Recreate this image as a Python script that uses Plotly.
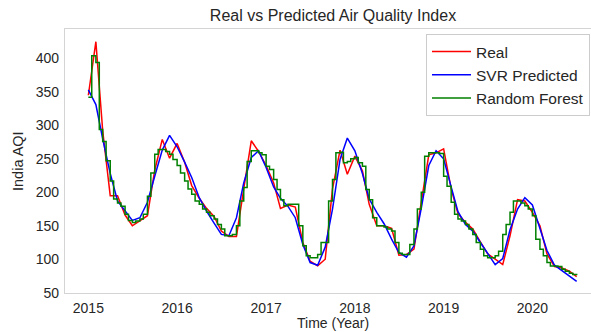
import pandas as pd
import plotly.graph_objects as go

# ---------------- data ----------------
month_dates = pd.date_range("2015-01-01", periods=67, freq="MS")
half_month_dates = pd.date_range("2015-01-01", periods=133, freq="SMS")

real_aqi = [345, 425, 292, 195, 195, 166, 150, 157, 165, 233, 279, 251,
            273, 245, 210, 191, 176, 164, 142, 134, 134, 205, 277, 261,
            240, 214, 176, 181, 178, 125, 97, 90, 100, 205, 263, 227,
            254, 232, 182, 150, 150, 146, 106, 107, 115, 185, 256, 259,
            265, 205, 168, 155, 145, 126, 108, 100, 92, 135, 189, 187,
            170, 150, 108, 89, 87, 82, 74]

svr_pred = [353, 331, 280, 228, 187, 172, 158, 162, 185, 224, 263, 285,
            268, 245, 222, 192, 172, 154, 137, 135, 162, 214, 252, 262,
            237, 208, 191, 179, 162, 122, 95, 91, 118, 175, 249, 281,
            262, 228, 190, 170, 153, 130, 110, 103, 120, 176, 240, 262,
            250, 208, 171, 152, 142, 125, 108, 92, 101, 144, 175, 192,
            181, 146, 113, 91, 83, 75, 67]

rf_pred = [342, 404, 394, 294, 276, 247, 217, 190, 184, 179, 167, 158,
           155, 157, 160, 167, 194, 229, 257, 264, 264, 261, 257, 249,
           240, 229, 217, 205, 197, 187, 182, 175, 170, 165, 160, 152,
           145, 135, 135, 137, 150, 187, 207, 246, 262, 262, 259, 256,
           239, 234, 219, 204, 189, 180, 182, 182, 182, 150, 120, 105,
           102, 102, 107, 125, 125, 187, 219, 259, 260, 244, 246, 250,
           252, 244, 239, 204, 189, 162, 150, 150, 148, 145, 142, 125,
           109, 107, 107, 122, 145, 175, 200, 254, 259, 259, 259, 258,
           224, 209, 185, 167, 160, 157, 152, 145, 137, 125, 115, 105,
           102, 102, 105, 112, 137, 152, 170, 187, 187, 184, 180, 175,
           165, 130, 115, 105, 95, 90, 90, 89, 85, 82, 79, 77, 76]

series_names = ["Real", "SVR Predicted", "Random Forest"]
series_colors = ["red", "blue", "green"]

y_ticks = [50, 100, 150, 200, 250, 300, 350, 400]
x_tick_years = ["2015", "2016", "2017", "2018", "2019", "2020"]

# ---------------- figure ----------------
FONT = "Liberation Sans, Arial, sans-serif"
TXT = "#262626"

fig = go.Figure()
fig.add_trace(go.Scatter(x=month_dates, y=real_aqi, mode="lines",
                         name=series_names[0], legendgroup="a",
                         line=dict(color=series_colors[0], width=1.5)))
fig.add_trace(go.Scatter(x=month_dates, y=svr_pred, mode="lines",
                         name=series_names[1], legendgroup="b",
                         line=dict(color=series_colors[1], width=1.5)))
fig.add_trace(go.Scatter(x=half_month_dates, y=rf_pred, mode="lines",
                         name=series_names[2], legendgroup="c",
                         line=dict(color=series_colors[2], width=1.5, shape="hv")))

W, H = 591, 332
L, R, T, B = 65, 0, 29, 39
plot_w = W - L - R
plot_h = H - T - B

fig.update_layout(
    width=W, height=H,
    margin=dict(l=L, r=R, t=T, b=B, pad=0),
    paper_bgcolor="white", plot_bgcolor="white",
    font=dict(family=FONT, size=14, color=TXT),
    title=dict(text="Real vs Predicted Air Quality Index",
               x=333 / W, xanchor="center", xref="container",
               y=1 - 15 / H, yanchor="middle", yref="container",
               font=dict(size=16, color=TXT, family=FONT)),
    showlegend=True,
    legend=dict(x=(426 - L) / plot_w, xanchor="left",
                y=1 - (34 - T) / plot_h, yanchor="top",
                bgcolor="white", bordercolor="#cccccc", borderwidth=1,
                font=dict(size=15.5, color=TXT, family=FONT),
                itemwidth=39,
                tracegroupgap=3, traceorder="normal"),
)

fig.update_xaxes(
    type="date",
    range=["2014-09-27", "2020-08-29"],
    tickvals=[pd.Timestamp(y + "-01-01") for y in x_tick_years],
    ticktext=x_tick_years,
    showgrid=False, zeroline=False,
    showline=True, linecolor="#d4d4d4", linewidth=1.25, mirror=True,
    ticks="", ticklabelstandoff=2,
    tickfont=dict(size=14, color=TXT, family=FONT),
)
fig.update_yaxes(
    range=[49.5, 444],
    tickvals=y_ticks,
    showgrid=False, zeroline=False,
    showline=True, linecolor="#d4d4d4", linewidth=1.25, mirror=False,
    ticks="", ticklabelstandoff=2,
    tickfont=dict(size=14, color=TXT, family=FONT),
)

# axis titles (positioned as in reference)
fig.add_annotation(text="Time (Year)", xref="paper", yref="paper",
                   x=(333 - L) / plot_w, y=-(323 - (H - B)) / plot_h,
                   xanchor="center", yanchor="middle", showarrow=False,
                   font=dict(size=14, color=TXT, family=FONT))
fig.add_annotation(text="India AQI", xref="paper", yref="paper",
                   x=(18 - L) / plot_w, y=0.5, textangle=-90,
                   xanchor="center", yanchor="middle", showarrow=False,
                   font=dict(size=14.5, color=TXT, family=FONT))

fig.write_html("out.html")
